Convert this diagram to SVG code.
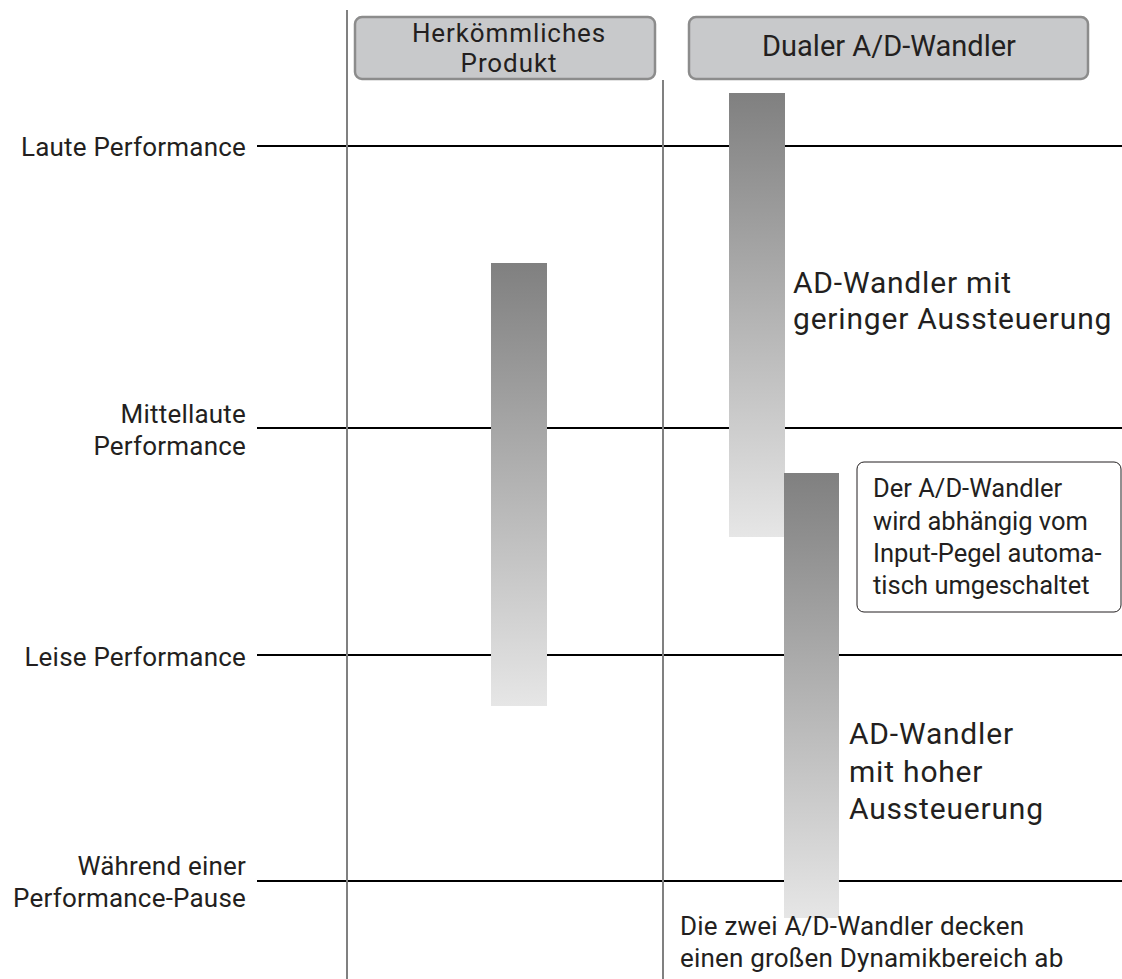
<svg xmlns="http://www.w3.org/2000/svg" width="1122" height="979" viewBox="0 0 1122 979">
<style>
text{font-family:Roboto,"Liberation Sans",sans-serif;fill:#231f20}
.lbl{font-size:26px;letter-spacing:0.2px}
.note{font-size:25.5px}
.big{font-size:30px;letter-spacing:0.8px}
.head{font-size:29px}
.head2{font-size:26px;letter-spacing:0.9px}
.hdr{fill:#c8c9cb;stroke:#8c8c8c;stroke-width:2.5}
.lvl{stroke:#000;stroke-width:2}
.col{stroke:#808080;stroke-width:2}
.bar{fill:url(#g)}
</style>
<defs>
<linearGradient id="g" x1="0" y1="0" x2="0" y2="1">
<stop offset="0" stop-color="#808080"/>
<stop offset="1" stop-color="#e6e6e6"/>
</linearGradient>
</defs>
<rect width="1122" height="979" fill="#fff"/>
<g id="connectors">
<line class="lvl" x1="257" y1="146" x2="1122" y2="146"/>
<line class="lvl" x1="257" y1="428" x2="1122" y2="428"/>
<line class="lvl" x1="257" y1="655" x2="1122" y2="655"/>
<line class="lvl" x1="257" y1="881" x2="1122" y2="881"/>
<line class="col" x1="347" y1="10" x2="347" y2="979"/>
<line class="col" x1="663" y1="80" x2="663" y2="979"/>
</g>
<g id="level-labels">
<text class="lbl" x="246" y="156" text-anchor="end">Laute Performance</text>
<text class="lbl" x="246" y="423" text-anchor="end">Mittellaute</text>
<text class="lbl" x="246" y="455" text-anchor="end">Performance</text>
<text class="lbl" x="246" y="666" text-anchor="end">Leise Performance</text>
<text class="lbl" x="246" y="875" text-anchor="end">Während einer</text>
<text class="lbl" x="246" y="907" text-anchor="end">Performance-Pause</text>
</g>
<g id="header-conventional">
<rect class="hdr" x="355" y="17" width="300" height="62" rx="7"/>
<text class="head2" x="509" y="42" text-anchor="middle">Herkömmliches</text>
<text class="head2" x="509" y="72" text-anchor="middle">Produkt</text>
</g>
<g id="header-dual">
<rect class="hdr" x="689" y="17" width="399" height="62" rx="7"/>
<text class="head" x="889" y="56" text-anchor="middle">Dualer A/D-Wandler</text>
</g>
<g id="bar-conventional">
<rect class="bar" x="491" y="263" width="56" height="443"/>
</g>
<g id="bar-low-gain">
<rect class="bar" x="729" y="93" width="56" height="444"/>
<text class="big" x="793" y="293">AD-Wandler mit</text>
<text class="big" x="793" y="329">geringer Aussteuerung</text>
</g>
<g id="bar-high-gain">
<rect class="bar" x="784" y="473" width="55" height="445"/>
<text class="big" x="849" y="744">AD-Wandler</text>
<text class="big" x="849" y="782">mit hoher</text>
<text class="big" x="849" y="819">Aussteuerung</text>
</g>
<g id="note">
<rect x="857" y="462" width="264" height="150" rx="7" fill="#fff" stroke="#231f20" stroke-width="1"/>
<text class="note" x="873" y="497">Der A/D-Wandler</text>
<text class="note" x="873" y="530">wird abhängig vom</text>
<text class="note" x="873" y="562">Input-Pegel automa-</text>
<text class="note" x="873" y="594">tisch umgeschaltet</text>
</g>
<g id="caption">
<text class="lbl" x="680" y="935">Die zwei A/D-Wandler decken</text>
<text class="lbl" x="680" y="967">einen großen Dynamikbereich ab</text>
</g>
</svg>
